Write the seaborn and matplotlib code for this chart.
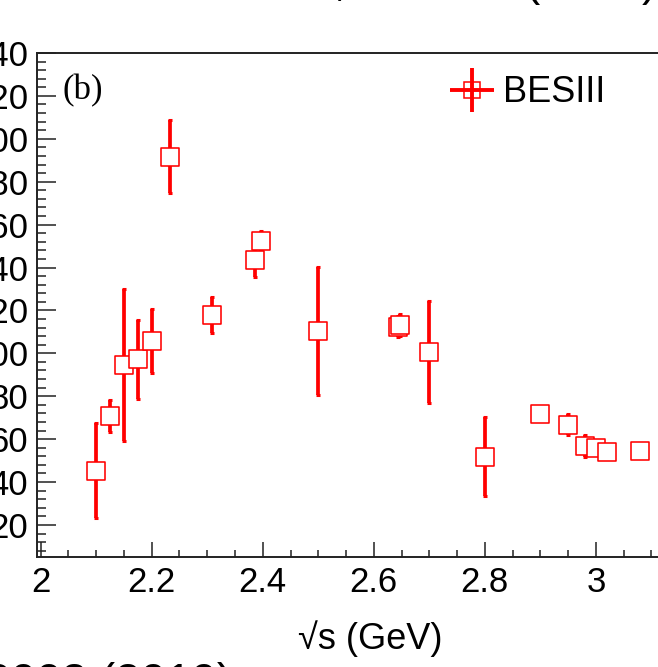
import numpy as np
import pandas as pd
import matplotlib
matplotlib.use("Agg")
import matplotlib.pyplot as plt
from matplotlib.ticker import MultipleLocator, FixedLocator
from matplotlib.lines import Line2D
from matplotlib.legend_handler import HandlerTuple
import seaborn as sns

# ---- data ----
energy = [2.1000, 2.1250, 2.1500, 2.1750, 2.2000, 2.2324, 2.3094, 2.3864, 2.3960,
          2.5000, 2.6444, 2.6464, 2.7000, 2.8000, 2.9000, 2.9500, 2.9810, 3.0000,
          3.0200, 3.0800]
value = [45.3, 70.8, 94.6, 97.2, 105.7, 191.7, 117.8, 143.7, 152.2,
         110.4, 112.5, 113.2, 100.8, 51.8, 71.6, 66.7, 56.7, 56.1,
         54.0, 54.3]
error = [22.0, 7.5, 35.5, 18.3, 14.8, 16.9, 8.3, 8.0, 4.7,
         30.0, 5.0, 5.0, 23.8, 18.3, 1.5, 5.0, 5.0, 2.0,
         1.5, 1.5]
xtick_vals = [2.0, 2.2, 2.4, 2.6, 2.8, 3.0]
xtick_labels = ["2", "2.2", "2.4", "2.6", "2.8", "3"]
ytick_vals = [20, 40, 60, 80, 100, 120, 140, 160, 180, 200, 220, 240]
ytick_labels = [str(v) for v in ytick_vals]
series_label = "BESIII"
panel_label = "(b)"
x_label = "√s (GeV)"

df = pd.DataFrame({"energy": energy, "value": value, "error": error})

sns.set_style("white")
plt.rcParams["font.family"] = ["Liberation Sans", "DejaVu Sans"]
plt.rcParams["text.color"] = "black"
plt.rcParams["axes.labelcolor"] = "black"

W, H = 658, 667
fig = plt.figure(figsize=(W / 100, H / 100), dpi=100)
left_px, right_px, top_px, bot_px = 36.7, 660.0, 53.0, 556.7
ax = fig.add_axes([left_px / W, 1 - bot_px / H, (right_px - left_px) / W, (bot_px - top_px) / H])

red = "#ff0000"
ax.errorbar(df["energy"], df["value"], yerr=df["error"], fmt="none", ecolor=red,
            elinewidth=2.7, capsize=1.3, capthick=2.2, zorder=2)
sns.scatterplot(data=df, x="energy", y="value", marker="s", s=13.0 ** 2,
                facecolor="white", edgecolor=red, linewidth=1.15, zorder=3, ax=ax,
                legend=False)

ax.set_xlim(1.9928, 3.1155)
ax.set_ylim(5.2, 240)

ax.xaxis.set_major_locator(FixedLocator(xtick_vals))
ax.set_xticklabels(xtick_labels)
ax.xaxis.set_minor_locator(MultipleLocator(0.05))
ax.yaxis.set_major_locator(FixedLocator(ytick_vals))
ax.set_yticklabels(ytick_labels)
ax.yaxis.set_minor_locator(MultipleLocator(4))

for s in ax.spines.values():
    s.set_visible(True)
    s.set_color("#222222")
    s.set_linewidth(1.4)

ax.tick_params(axis="both", which="both", direction="in", colors="#222222",
               bottom=True, left=True, top=False, right=False, width=1.1,
               labelsize=25, labelcolor="black")
ax.tick_params(axis="x", which="major", length=10.8, pad=7)
ax.tick_params(axis="x", which="minor", length=5.0)
ax.tick_params(axis="y", which="major", length=13.7, pad=6)
ax.tick_params(axis="y", which="minor", length=6.5)

ax.set_xlabel(x_label, fontsize=26, labelpad=15)
ax.set_ylabel("")
ax.xaxis.label.set_x((370 - left_px) / (right_px - left_px))

# panel label
ax.text((62 - left_px) / (right_px - left_px), 1 - (91 - top_px) / (bot_px - top_px),
        panel_label, transform=ax.transAxes, fontsize=25, va="center", ha="left",
        color="black", family=["Liberation Serif", "DejaVu Serif"])

# legend
plus = Line2D([], [], linestyle="none", marker="+", markersize=31, markeredgewidth=2.8,
              color=red)
box = Line2D([], [], linestyle="none", marker="s", markersize=12, markeredgewidth=1.1,
             markeredgecolor=red, fillstyle="none")
leg = ax.legend(handles=[(plus, box)], labels=[series_label],
                handler_map={tuple: HandlerTuple(ndivide=1)}, frameon=False,
                loc="center left", bbox_to_anchor=(449 / W, 1 - 93 / H),
                bbox_transform=fig.transFigure, fontsize=26, handlelength=1.25,
                handletextpad=0.25, borderpad=0, borderaxespad=0)
for t in leg.get_texts():
    t.set_color("black")

# partially visible surrounding slide text
fig.text(657 / W, 1 + 5 / H, "Phys. Rev. Lett. 124, 042001 (2020)", fontsize=33,
         ha="right", va="baseline")
fig.text(232 / W, 1 - 696 / H, "Phys. Rev. Lett. 123, 122003 (2019)", fontsize=33,
         ha="right", va="baseline")

fig.savefig("out.png", dpi=100, facecolor="white")
